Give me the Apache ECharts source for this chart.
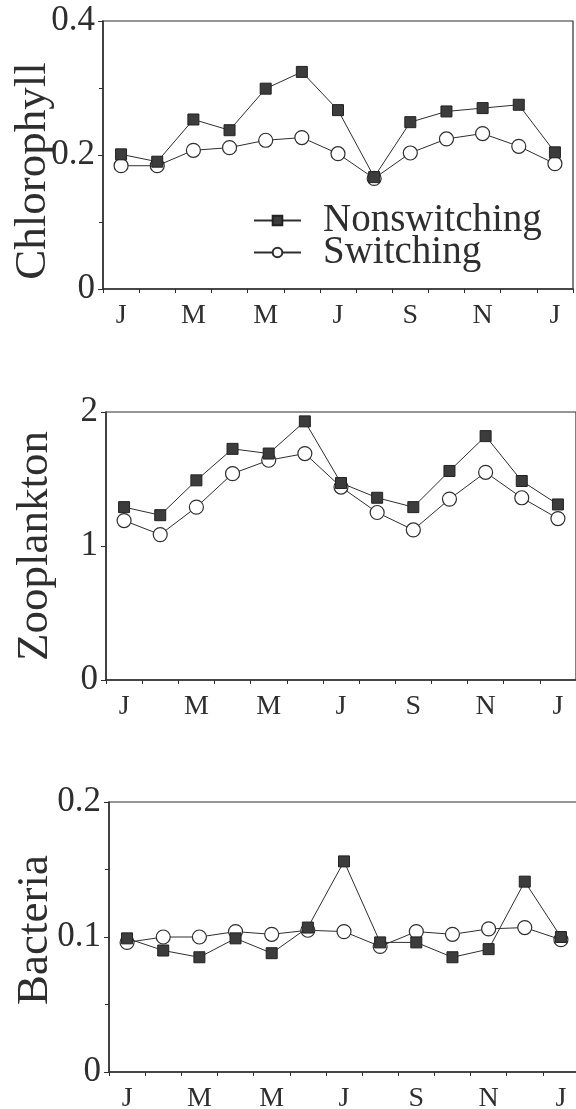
<!DOCTYPE html>
<html>
<head>
<meta charset="utf-8">
<script src="https://cdn.jsdelivr.net/npm/echarts@6/dist/echarts.min.js"></script>
<style>
  html, body { margin: 0; padding: 0; background: #fff; }
  #chart { width: 576px; height: 1109px; }
</style>
</head>
<body>
<div id="chart"></div>
<script>
// Months of the year, January to the following January
const months = ['J', 'F', 'M', 'A', 'M', 'J', 'J', 'A', 'S', 'O', 'N', 'D', 'J'];

const chlNonswitching = [0.201, 0.190, 0.253, 0.237, 0.299, 0.324, 0.267, 0.167, 0.249, 0.265, 0.270, 0.275, 0.204];
const chlSwitching    = [0.184, 0.184, 0.207, 0.211, 0.222, 0.226, 0.202, 0.165, 0.203, 0.224, 0.232, 0.213, 0.187];

const zooNonswitching = [1.29, 1.23, 1.49, 1.725, 1.69, 1.93, 1.47, 1.36, 1.29, 1.56, 1.82, 1.485, 1.31];
const zooSwitching    = [1.19, 1.085, 1.29, 1.54, 1.64, 1.69, 1.44, 1.25, 1.12, 1.35, 1.55, 1.36, 1.205];

const bacNonswitching = [0.099, 0.090, 0.085, 0.099, 0.088, 0.107, 0.156, 0.096, 0.096, 0.085, 0.091, 0.141, 0.100];
const bacSwitching    = [0.096, 0.100, 0.100, 0.104, 0.102, 0.105, 0.104, 0.093, 0.104, 0.102, 0.106, 0.107, 0.098];

const panelNames = ['Chlorophyll', 'Zooplankton', 'Bacteria'];
const yMax = [0.4, 2, 0.2];
const yStep = [0.2, 1, 0.1];

const FONT = '"Liberation Serif", "DejaVu Serif", serif';
const INK = '#2e2e2e';

const grids = [
  { left: 103, top: 21,  width: 470, height: 268 },
  { left: 106, top: 412, width: 470, height: 268 },
  { left: 109, top: 802, width: 470, height: 270 }
];

const nameGaps = [47, 48, 51];
const namePads = [[0, 32, 0, 0], [0, 0, 0, 0], [0, 0, 0, 14]];
const minorOn = [true, false, true];

const xAxes = grids.map((g, i) => ({
  type: 'category',
  gridIndex: i,
  data: months,
  boundaryGap: true,
  axisLine: { lineStyle: { color: INK, width: 1.5 } },
  axisTick: { show: true, interval: 0, length: 4, lineStyle: { color: INK, width: 1 } },
  axisLabel: {
    interval: 1,
    margin: 13,
    fontFamily: FONT,
    fontSize: 28,
    color: INK
  },
  splitLine: { show: false }
}));

const yAxes = grids.map((g, i) => ({
  type: 'value',
  gridIndex: i,
  min: 0,
  max: yMax[i],
  interval: yStep[i],
  name: panelNames[i],
  nameLocation: 'middle',
  nameGap: nameGaps[i],
  nameMoveOverlap: false,
  nameTextStyle: { fontFamily: FONT, fontSize: 45, color: INK, padding: namePads[i] },
  axisLine: { show: true, lineStyle: { color: INK, width: 1.5 } },
  axisTick: { show: true, length: 5, lineStyle: { color: INK, width: 1 } },
  minorTick: { show: minorOn[i], splitNumber: 2, length: 4, lineStyle: { color: INK, width: 1 } },
  axisLabel: { margin: 8, fontFamily: FONT, fontSize: 35, color: INK },
  splitLine: { show: false }
}));

function switchingSeries(data, i) {
  return {
    name: 'Switching',
    type: 'line',
    xAxisIndex: i,
    yAxisIndex: i,
    data: data,
    symbol: 'circle',
    symbolSize: 14,
    lineStyle: { color: INK, width: 1 },
    itemStyle: { color: '#ffffff', borderColor: INK, borderWidth: 1.2 },
    z: 2
  };
}

function nonswitchingSeries(data, i) {
  return {
    name: 'Nonswitching',
    type: 'line',
    xAxisIndex: i,
    yAxisIndex: i,
    data: data,
    symbol: 'rect',
    symbolSize: 11,
    lineStyle: { color: INK, width: 1 },
    itemStyle: { color: '#3c3c3c', borderColor: '#222', borderWidth: 1 },
    z: 3
  };
}

const option = {
  backgroundColor: '#ffffff',
  animation: false,
  grid: grids.map(g => Object.assign({
    show: true,
    borderColor: INK,
    borderWidth: 1.2,
    backgroundColor: 'transparent',
    containLabel: false,
    outerBoundsMode: 'none'
  }, g)),
  xAxis: xAxes,
  yAxis: yAxes,
  legend: {
    data: ['Nonswitching', 'Switching'],
    orient: 'vertical',
    left: 248,
    top: 196,
    itemWidth: 47,
    itemHeight: 12,
    itemGap: -7,
    textStyle: {
      fontFamily: FONT,
      fontSize: 39,
      color: INK,
      padding: [0, 0, 0, 17]
    }
  },
  series: [
    switchingSeries(chlSwitching, 0),
    nonswitchingSeries(chlNonswitching, 0),
    switchingSeries(zooSwitching, 1),
    nonswitchingSeries(zooNonswitching, 1),
    switchingSeries(bacSwitching, 2),
    nonswitchingSeries(bacNonswitching, 2)
  ]
};

const chart = echarts.init(document.getElementById('chart'), null, { renderer: 'canvas' });
chart.setOption(option);
</script>
</body>
</html>
